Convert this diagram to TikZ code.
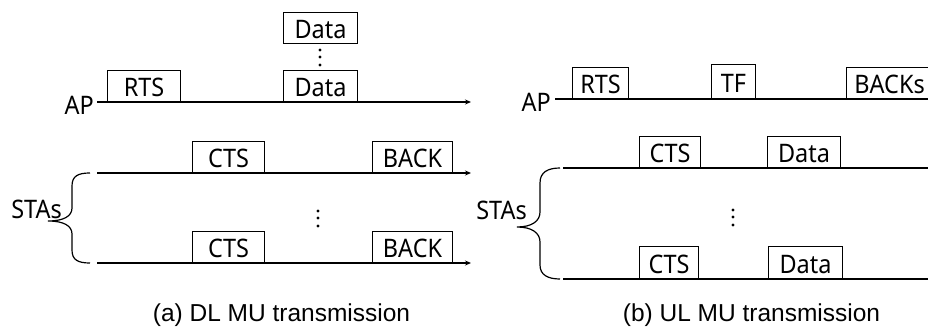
\documentclass[tikz,border=0pt]{standalone}
\usepackage{fontspec}
\setmainfont{Noto Sans}
\newfontfamily\boxfont[FakeStretch=0.92]{Noto Sans}
\newfontfamily\capfont{Liberation Sans}
\usetikzlibrary{arrows.meta}
\tikzset{
  pkt/.style={draw, line width=1.1pt, inner sep=0pt, anchor=south west, minimum height=31pt,
    text height=21.5pt, text depth=0pt, font=\boxfont\fontsize{25.5}{26}\selectfont},
  lbl/.style={inner sep=0pt, anchor=east, font=\boxfont\fontsize{25.5}{26}\selectfont},
  tline/.style={line width=1.3pt},
  tarrow/.style={tline, -{Stealth[length=6pt,width=5pt]}},
  brc/.style={line width=1.2pt},
  captxt/.style={inner sep=0pt, anchor=base, font=\capfont\fontsize{24.5}{26}\selectfont}
}
\begin{document}
\begin{tikzpicture}[x=1pt,y=-1pt]
\useasboundingbox (0,0) rectangle (928,329);
\clip (0,0) rectangle (928,329);

% ---------- (a) DL ----------
\node[lbl] (apA) at (94,105) {AP};
\coordinate (apAs) at (97,102);
\coordinate (apAe) at (471,102);
\draw[tarrow] (apAs) -- (apAe);
\node[pkt, minimum width=73pt] (rtsA) at (107,102) {RTS};
\node[pkt, minimum width=74pt] (dataA1) at (283,102) {Data};
\node[pkt, minimum width=74pt] (dataA2) at (283,44) {Data};
\foreach \yy in {50,57,65} \fill (320,\yy) circle (1.6pt);

\coordinate (staA1s) at (97,173);
\coordinate (staA1e) at (471,173);
\coordinate (staA2s) at (97,263);
\coordinate (staA2e) at (471,263);
\draw[tarrow] (staA1s) -- (staA1e);
\draw[tarrow] (staA2s) -- (staA2e);
\node[pkt, minimum width=72pt] (ctsA1) at (192,173) {CTS};
\node[pkt, minimum width=80pt] (backA1) at (372,173) {BACK};
\node[pkt, minimum width=72pt] (ctsA2) at (192,263) {CTS};
\node[pkt, minimum width=80pt] (backA2) at (372,263) {BACK};
\foreach \yy in {211,218,226} \fill (318,\yy) circle (1.6pt);

\node[lbl] (staA) at (62,209) {STAs};
\draw[brc] (90,173) .. controls (78,173) and (72,176) .. (72,186) -- (72,208)
  .. controls (72,216) and (64,221) .. (48,221)
  .. controls (64,221) and (72,226) .. (72,234) -- (72,250)
  .. controls (72,260) and (78,263) .. (90,263);

\node[captxt] (capA) at (281.5,321) {(a) DL MU transmission};

% ---------- (b) UL ----------
\node[lbl] (apB) at (551,102) {AP};
\coordinate (apBs) at (555,99);
\coordinate (apBe) at (935,99);
\draw[tline] (apBs) -- (apBe);
\node[pkt, minimum width=56pt] (rtsB) at (572,99) {RTS};
\node[pkt, minimum width=44pt, minimum height=34pt] (tfB) at (711,99) {TF};
\node[pkt, minimum width=86pt] (backsB) at (846,99) {BACKs};

\coordinate (staB1s) at (563,168);
\coordinate (staB1e) at (935,168);
\coordinate (staB2s) at (563,279);
\coordinate (staB2e) at (935,279);
\draw[tline] (staB1s) -- (staB1e);
\draw[tline] (staB2s) -- (staB2e);
\node[pkt, minimum width=61pt] (ctsB1) at (639,168) {CTS};
\node[pkt, minimum width=73pt] (dataB1) at (767,168) {Data};
\node[pkt, minimum width=59pt, minimum height=32pt] (ctsB2) at (639,279) {CTS};
\node[pkt, minimum width=74pt, minimum height=32pt] (dataB2) at (768,279) {Data};
\foreach \yy in {210,217,225} \fill (733,\yy) circle (1.6pt);

\node[lbl] (staB) at (527,210) {STAs};
\draw[brc] (560,168) .. controls (548,168) and (540,172) .. (540,183) -- (540,212)
  .. controls (540,221) and (532,227) .. (517,227)
  .. controls (532,227) and (540,233) .. (540,242) -- (540,265)
  .. controls (540,275) and (548,279) .. (560,279);

\node[captxt] (capB) at (751.5,321) {(b) UL MU transmission};
\end{tikzpicture}
\end{document}
